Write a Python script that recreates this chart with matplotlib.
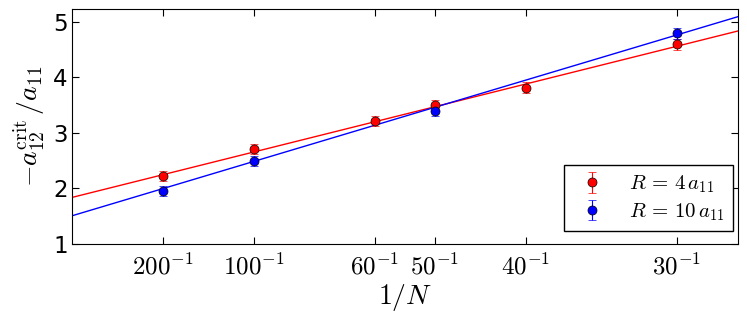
import numpy as np
import matplotlib
matplotlib.use("Agg")
import matplotlib.pyplot as plt

# system sizes shown on the x axis (plotted as 1/N)
tick_N = [200, 100, 60, 50, 40, 30]
tick_labels = [r"$200^{-1}$", r"$100^{-1}$", r"$60^{-1}$", r"$50^{-1}$",
               r"$40^{-1}$", r"$30^{-1}$"]

# R = 4 a11
red_N = [200, 100, 60, 50, 40, 30]
red_vals = [2.22, 2.71, 3.21, 3.50, 3.81, 4.59]
red_err = [0.095, 0.095, 0.09, 0.09, 0.1, 0.095]
red_fit = (1.84, 81.5)     # intercept, slope in 1/N

# R = 10 a11
blue_N = [200, 100, 50, 30]
blue_vals = [1.96, 2.50, 3.40, 4.79]
blue_err = [0.09, 0.09, 0.09, 0.1]
blue_fit = (1.51, 97.5)

x_max = 0.0367

plt.rcParams["mathtext.fontset"] = "cm"
plt.rcParams["font.family"] = ["DejaVu Sans"]

fig = plt.figure(figsize=(7.47, 3.2), dpi=100)
ax = fig.add_axes([0.097, 0.2375, 0.8905, 0.733])

xfit = np.array([0.0, x_max])
ax.plot(xfit, red_fit[0] + red_fit[1] * xfit, color="red", lw=1.0)
ax.plot(xfit, blue_fit[0] + blue_fit[1] * xfit, color="blue", lw=1.0)

ax.errorbar(1.0 / np.array(red_N), red_vals, yerr=red_err, fmt="o",
            color="red", ecolor="red", mec="k", mew=0.5, ms=6.5,
            capsize=3, elinewidth=0.8, capthick=0.8,
            label=r"$R\,=\,4\,a_{11}$")
ax.errorbar(1.0 / np.array(blue_N), blue_vals, yerr=blue_err, fmt="o",
            color="blue", ecolor="blue", mec="k", mew=0.5, ms=6.5,
            capsize=3, elinewidth=0.8, capthick=0.8,
            label=r"$R\,=\,10\,a_{11}$")

ax.set_xlim(0, x_max)
ax.set_ylim(1, 5.22)
ax.set_xticks(1.0 / np.array(tick_N))
ax.set_xticklabels(tick_labels, fontsize=18)
ax.set_yticks([1, 2, 3, 4, 5])
ax.tick_params(axis="y", labelsize=16.5)
ax.tick_params(direction="in", top=True, right=True, length=5, width=0.8)
ax.tick_params(axis="x", pad=7)

ax.set_xlabel(r"$1/N$", fontsize=20, labelpad=2)
ax.set_ylabel(r"$-a_{12}^{\rm crit}\,/a_{11}$", fontsize=20, labelpad=4)

leg = ax.legend(loc="lower right", bbox_to_anchor=(0.993, 0.055),
                borderaxespad=0, fontsize=15, numpoints=1,
                fancybox=False, framealpha=1, edgecolor="k",
                handlelength=1.8, handletextpad=0.9, borderpad=0.4,
                labelspacing=0.3)
leg.get_frame().set_linewidth(1.0)

fig.savefig("out.png", dpi=100)
